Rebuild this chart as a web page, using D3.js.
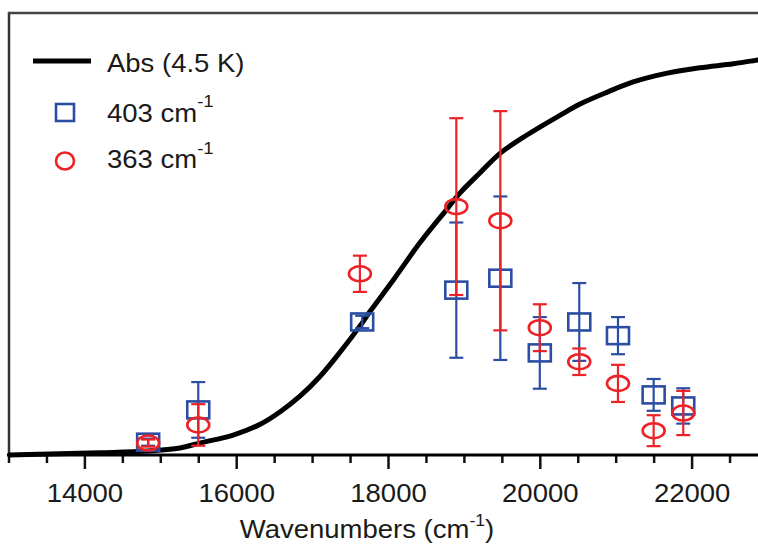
<!DOCTYPE html>
<html>
<head>
<meta charset="utf-8">
<script src="https://cdn.jsdelivr.net/npm/d3@7"></script>
<style>
    body { margin: 0; background: #ffffff; }
    svg { display: block; font-family: "Liberation Sans", Arial, sans-serif; }
</style>
</head>
<body>
<svg id="chart" width="758" height="544"></svg>
<script>
// absorption spectrum at 4.5 K (normalized intensity vs wavenumber)
var absWavenumber = [13000, 14200, 14840, 15260, 15520, 15960, 16310, 16580, 16840, 17100,
    17370, 17660, 17760, 18070, 18420, 18780, 18950, 19210, 19480, 19830,
    20270, 20530, 20890, 21230, 21680, 22110, 22550, 22880, 23000];
var absIntensity = [0, 0.005, 0.009, 0.016, 0.027, 0.045, 0.069, 0.098, 0.133, 0.177,
    0.233, 0.299, 0.324, 0.396, 0.480, 0.557, 0.593, 0.638, 0.683, 0.724,
    0.769, 0.794, 0.821, 0.844, 0.864, 0.876, 0.885, 0.894, 0.896];

// resonance Raman profile, 403 cm-1 band
var wn403 = [14840, 15500, 17660, 18900, 19480, 20000, 20520, 21030, 21500, 21890];
var val403 = [0.029, 0.102, 0.301, 0.373, 0.400, 0.231, 0.301, 0.270, 0.136, 0.111];
var err403 = [0.008, 0.063, 0.014, 0.153, 0.185, 0.081, 0.088, 0.042, 0.036, 0.040];

// resonance Raman profile, 363 cm-1 band
var wn363 = [14840, 15500, 17630, 18900, 19480, 20000, 20520, 21030, 21500, 21890];
var val363 = [0.027, 0.068, 0.410, 0.562, 0.530, 0.288, 0.211, 0.162, 0.055, 0.095];
var err363 = [0.008, 0.047, 0.041, 0.200, 0.248, 0.053, 0.030, 0.042, 0.035, 0.050];

var majorTicks = [14000, 16000, 18000, 20000, 22000];

var svg = d3.select('#chart');

// scales (the right end of the frame runs past the picture edge)
var x = d3.scaleLinear().domain([13000, 23000]).range([8.5, 767.5]);
var y = d3.scaleLinear().domain([0, 1]).range([455, 13]);

var blue = '#2b4ea3';
var red = '#ec2227';
var stretch = 'scale(1.1,1)'; // the original lettering is slightly wide

// frame: left and top lines
svg.append('line')
    .attr('x1', 9).attr('y1', 12).attr('x2', 9).attr('y2', 455)
    .style('stroke', '#333').style('stroke-width', 2.5);
svg.append('line')
    .attr('x1', 8).attr('y1', 13).attr('x2', 758).attr('y2', 13)
    .style('stroke', '#444').style('stroke-width', 2.5);

// minor ticks every 500
var minor = d3.range(13000, 23001, 500).filter(function (d) { return majorTicks.indexOf(d) < 0; });
svg.append('g')
    .attr('transform', 'translate(0,455)')
    .call(d3.axisBottom(x).tickValues(minor).tickSize(8).tickFormat(''))
    .call(function (g) {
        g.select('.domain').remove();
        g.selectAll('line').style('stroke', '#111').style('stroke-width', 2.5);
    });

// major ticks with labels
svg.append('g')
    .attr('transform', 'translate(0,455)')
    .call(d3.axisBottom(x).tickValues(majorTicks).tickSize(14).tickPadding(15).tickFormat(d3.format('d')))
    .call(function (g) {
        g.select('.domain').remove();
        g.selectAll('line').style('stroke', '#111').style('stroke-width', 2.5);
        g.selectAll('text')
            .attr('transform', stretch)
            .style('font-size', '25px')
            .style('font-family', '"Liberation Sans", Arial, sans-serif')
            .style('fill', '#1a1a1a');
    });

// axis baseline
svg.append('line')
    .attr('x1', 7).attr('y1', 455).attr('x2', 758).attr('y2', 455)
    .style('stroke', '#000').style('stroke-width', 3);

// x axis title
var title = svg.append('text')
    .attr('transform', 'translate(367,538) ' + stretch)
    .attr('text-anchor', 'middle')
    .style('font-size', '25px')
    .style('fill', '#1a1a1a');
title.append('tspan').text('Wavenumbers (cm');
title.append('tspan').attr('dy', -12).style('font-size', '16px').text('-1');
title.append('tspan').attr('dy', 12).text(')');

// absorption curve
var line = d3.line()
    .x(function (d, i) { return x(absWavenumber[i]); })
    .y(function (d) { return y(d); })
    .curve(d3.curveCatmullRom.alpha(0.5));
svg.append('path')
    .datum(absIntensity)
    .attr('d', line)
    .style('fill', 'none')
    .style('stroke', '#000')
    .style('stroke-width', 5);

/**
 * Draws one Raman profile: error bars plus hollow markers.
 */
function drawSeries(wn, val, err, color, shape) {
    var g = svg.append('g');
    var pts = wn.map(function (w, i) { return { w: w, v: val[i], e: err[i] }; });
    var cap = 7;
    // vertical error bars
    g.selectAll('.bar').data(pts).enter()
        .append('line')
        .attr('x1', function (d) { return x(d.w); })
        .attr('x2', function (d) { return x(d.w); })
        .attr('y1', function (d) { return y(d.v + d.e); })
        .attr('y2', function (d) { return y(d.v - d.e); })
        .style('stroke', color).style('stroke-width', 2.2);
    // caps, top and bottom
    [1, -1].forEach(function (s) {
        g.selectAll('.cap' + s).data(pts).enter()
            .append('line')
            .attr('x1', function (d) { return x(d.w) - cap; })
            .attr('x2', function (d) { return x(d.w) + cap; })
            .attr('y1', function (d) { return y(d.v + s * d.e); })
            .attr('y2', function (d) { return y(d.v + s * d.e); })
            .style('stroke', color).style('stroke-width', 2.2);
    });
    // markers
    if (shape === 'square') {
        g.selectAll('.mk').data(pts).enter()
            .append('rect')
            .attr('x', function (d) { return x(d.w) - 11; })
            .attr('y', function (d) { return y(d.v) - 8.5; })
            .attr('width', 22).attr('height', 17)
            .style('fill', 'none').style('stroke', color).style('stroke-width', 2.6);
    } else {
        g.selectAll('.mk').data(pts).enter()
            .append('ellipse')
            .attr('cx', function (d) { return x(d.w); })
            .attr('cy', function (d) { return y(d.v); })
            .attr('rx', 11).attr('ry', 7.5)
            .style('fill', 'none').style('stroke', color).style('stroke-width', 2.6);
    }
}

drawSeries(wn403, val403, err403, blue, 'square');
drawSeries(wn363, val363, err363, red, 'circle');

// legend
var legend = svg.append('g').style('font-size', '25px').style('fill', '#1a1a1a');
legend.append('line')
    .attr('x1', 33).attr('y1', 61).attr('x2', 91).attr('y2', 61)
    .style('stroke', '#000').style('stroke-width', 5);
legend.append('text')
    .attr('transform', 'translate(107,72) ' + stretch)
    .text('Abs (4.5 K)');

legend.append('rect')
    .attr('x', 56).attr('y', 104).attr('width', 18).attr('height', 17)
    .style('fill', 'none').style('stroke', blue).style('stroke-width', 2.6);
var t403 = legend.append('text').attr('transform', 'translate(107,122) ' + stretch);
t403.append('tspan').text('403 cm');
t403.append('tspan').attr('dy', -15).style('font-size', '17px').text('-1');

legend.append('ellipse')
    .attr('cx', 65).attr('cy', 161).attr('rx', 9).attr('ry', 8.5)
    .style('fill', 'none').style('stroke', red).style('stroke-width', 2.6);
var t363 = legend.append('text').attr('transform', 'translate(107,168) ' + stretch);
t363.append('tspan').text('363 cm');
t363.append('tspan').attr('dy', -14).style('font-size', '17px').text('-1');
</script>
</body>
</html>
